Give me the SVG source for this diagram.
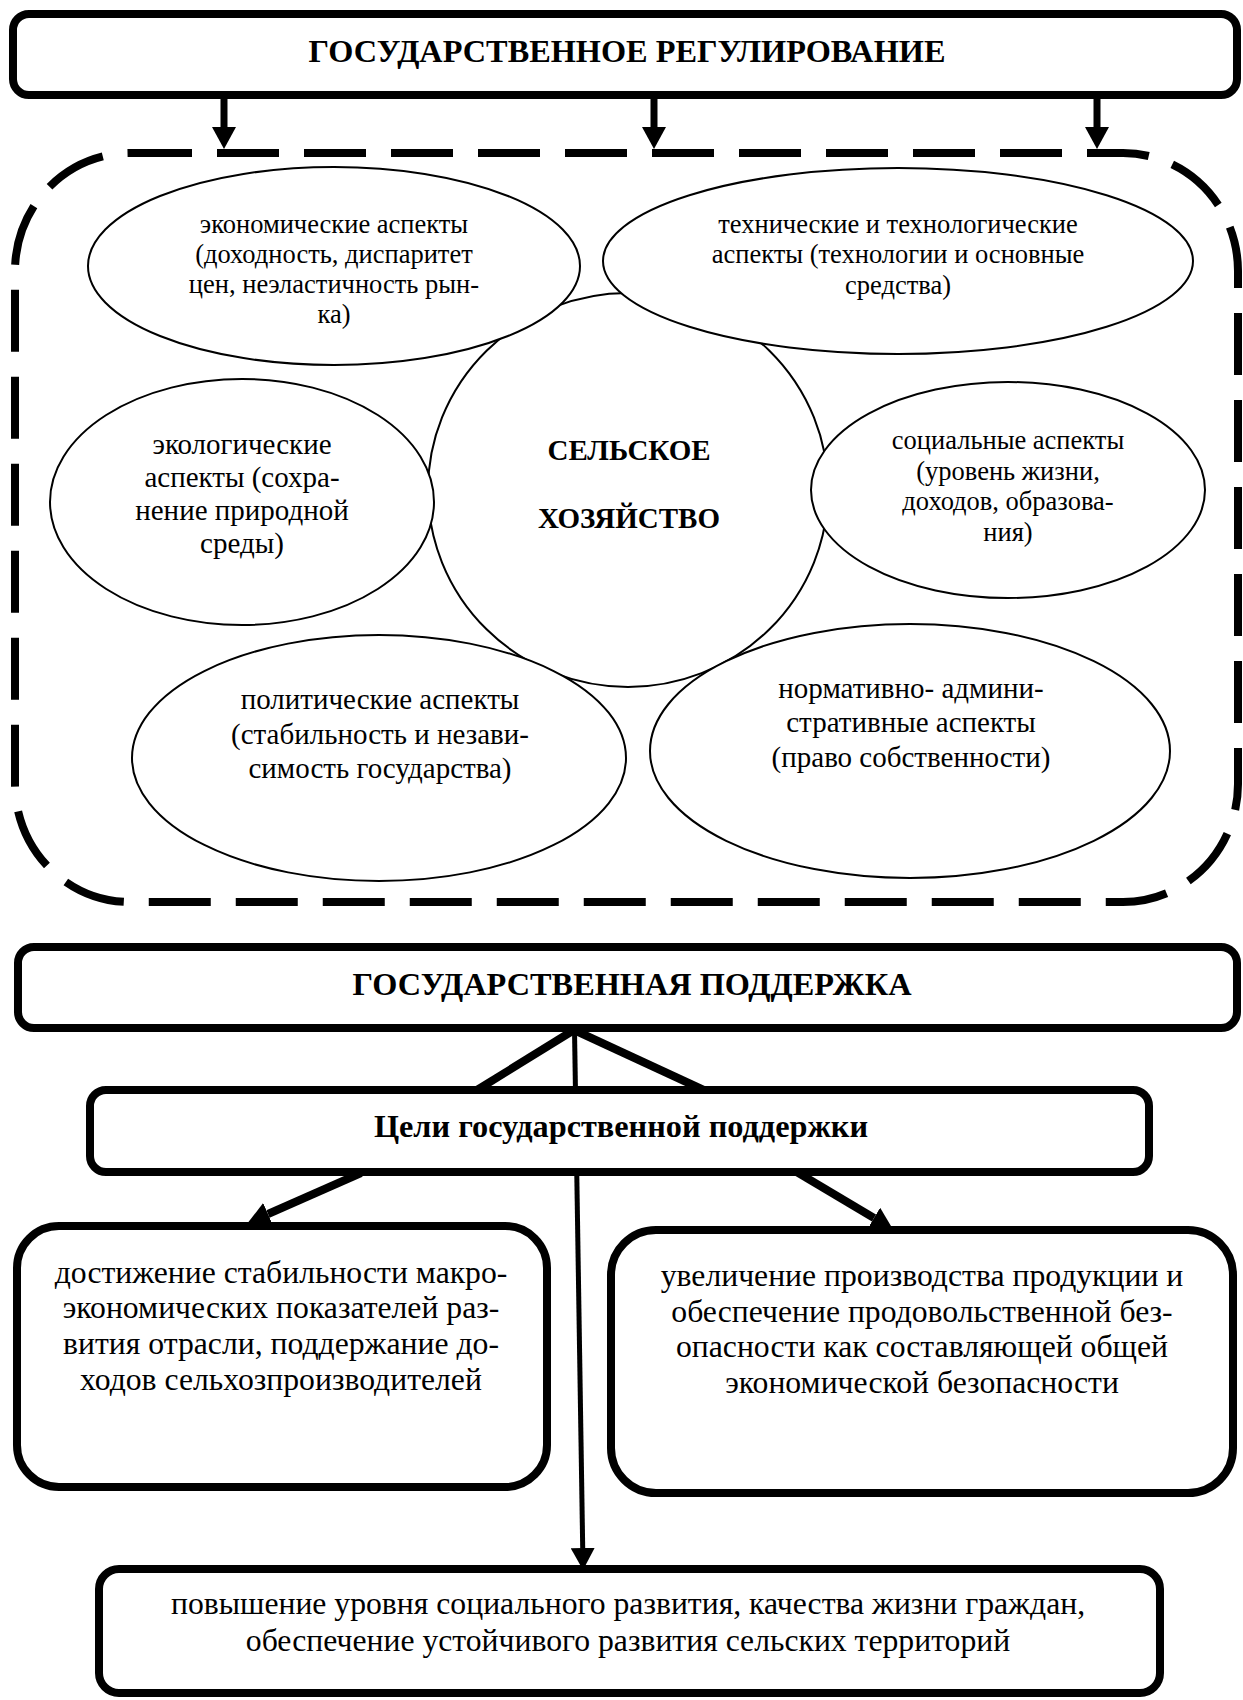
<svg xmlns="http://www.w3.org/2000/svg" width="1243" height="1700" viewBox="0 0 1243 1700">
<style>
.box{fill:#fff;stroke:#000;stroke-width:8}
.ell{fill:#fff;stroke:#000;stroke-width:2}
.dash{fill:none;stroke:#000;stroke-width:8;stroke-dasharray:62 25}
.t{font-family:"Liberation Serif","Times New Roman",serif;fill:#000;text-anchor:middle}
.b{font-weight:bold;font-size:32.3px}
.s12{font-size:26.5px}
.s13{font-size:29px}
.s14{font-size:31.7px}
.ln{stroke:#000;fill:none}
</style>
<defs>
<marker id="ah" markerUnits="userSpaceOnUse" markerWidth="22" markerHeight="24" viewBox="0 0 22 24" refX="0" refY="12" orient="auto">
<path d="M0,0 L22,12 L0,24 z" fill="#000"/>
</marker>
</defs>
<rect class="dash" x="15" y="153" width="1223" height="749" rx="115" ry="118"/>
<g id="connectors">
<line class="ln" x1="224" y1="98" x2="224" y2="127" stroke-width="7" marker-end="url(#ah)"/>
<line class="ln" x1="654" y1="98" x2="654" y2="127" stroke-width="7" marker-end="url(#ah)"/>
<line class="ln" x1="1097" y1="98" x2="1097" y2="127" stroke-width="7" marker-end="url(#ah)"/>
<line class="ln" x1="574" y1="1030" x2="477" y2="1090" stroke-width="8"/>
<line class="ln" x1="574" y1="1030" x2="708" y2="1092" stroke-width="8"/>
<line class="ln" x1="574.5" y1="1030" x2="582.7" y2="1548" stroke-width="5" marker-end="url(#ah)"/>
<line class="ln" x1="361" y1="1173" x2="268" y2="1214" stroke-width="8" marker-end="url(#ah)"/>
<line class="ln" x1="790" y1="1168" x2="874" y2="1218" stroke-width="8" marker-end="url(#ah)"/>
</g>
<g id="top-box">
<rect class="box" x="13" y="14" width="1224" height="81" rx="16"/>
<text class="t b" x="627" y="62">ГОСУДАРСТВЕННОЕ РЕГУЛИРОВАНИЕ</text>
</g>
<g id="center">
<ellipse class="ell" cx="628" cy="490" rx="200" ry="197"/>
<text class="t s13" font-weight="bold" x="629" y="460">СЕЛЬСКОЕ</text>
<text class="t s13" font-weight="bold" x="629" y="528">ХОЗЯЙСТВО</text>
</g>
<g id="economic">
<ellipse class="ell" cx="334" cy="266" rx="246" ry="99"/>
<text class="t s12" x="334" y="233">экономические аспекты</text>
<text class="t s12" x="334" y="263">(доходность, диспаритет</text>
<text class="t s12" x="334" y="293">цен, неэластичность рын-</text>
<text class="t s12" x="334" y="323">ка)</text>
</g>
<g id="technical">
<ellipse class="ell" cx="898" cy="261" rx="295" ry="93"/>
<text class="t s12" x="898" y="233">технические и технологические</text>
<text class="t s12" x="898" y="263">аспекты (технологии и основные</text>
<text class="t s12" x="898" y="294">средства)</text>
</g>
<g id="ecological">
<ellipse class="ell" cx="242" cy="502" rx="192" ry="123"/>
<text class="t s13" x="242" y="454">экологические</text>
<text class="t s13" x="242" y="487">аспекты (сохра-</text>
<text class="t s13" x="242" y="520">нение природной</text>
<text class="t s13" x="242" y="553">среды)</text>
</g>
<g id="social">
<ellipse class="ell" cx="1008" cy="490" rx="197" ry="108"/>
<text class="t s12" x="1008" y="449">социальные аспекты</text>
<text class="t s12" x="1008" y="480">(уровень жизни,</text>
<text class="t s12" x="1008" y="510">доходов, образова-</text>
<text class="t s12" x="1008" y="541">ния)</text>
</g>
<g id="political">
<ellipse class="ell" cx="379" cy="758" rx="247" ry="123"/>
<text class="t s13" x="380" y="709">политические аспекты</text>
<text class="t s13" x="380" y="744">(стабильность и незави-</text>
<text class="t s13" x="380" y="778">симость государства)</text>
</g>
<g id="normative">
<ellipse class="ell" cx="910" cy="751" rx="260" ry="127"/>
<text class="t s13" x="911" y="698">нормативно- админи-</text>
<text class="t s13" x="911" y="732">стративные аспекты</text>
<text class="t s13" x="911" y="767">(право собственности)</text>
</g>
<g id="support-box">
<rect class="box" x="18" y="947" width="1219" height="81" rx="16"/>
<text class="t b" x="632" y="995">ГОСУДАРСТВЕННАЯ ПОДДЕРЖКА</text>
</g>
<g id="goals-box">
<rect class="box" x="90" y="1090" width="1059" height="82" rx="16"/>
<text class="t b" x="621" y="1137">Цели государственной поддержки</text>
</g>
<g id="goal-left">
<rect class="box" x="17" y="1226" width="530" height="261" rx="42"/>
<text class="t s14" x="281" y="1283">достижение стабильности макро-</text>
<text class="t s14" x="281" y="1318">экономических показателей раз-</text>
<text class="t s14" x="281" y="1354">вития отрасли, поддержание до-</text>
<text class="t s14" x="281" y="1390">ходов сельхозпроизводителей</text>
</g>
<g id="goal-right">
<rect class="box" x="611" y="1230" width="622" height="263" rx="45"/>
<text class="t s14" x="922" y="1286">увеличение производства продукции и</text>
<text class="t s14" x="922" y="1322">обеспечение продовольственной без-</text>
<text class="t s14" x="922" y="1357">опасности как составляющей общей</text>
<text class="t s14" x="922" y="1393">экономической безопасности</text>
</g>
<g id="goal-bottom">
<rect class="box" x="99" y="1569" width="1061" height="124" rx="20"/>
<text class="t s14" x="628" y="1614">повышение уровня социального развития, качества жизни граждан,</text>
<text class="t s14" x="628" y="1651">обеспечение устойчивого развития сельских территорий</text>
</g>
</svg>
